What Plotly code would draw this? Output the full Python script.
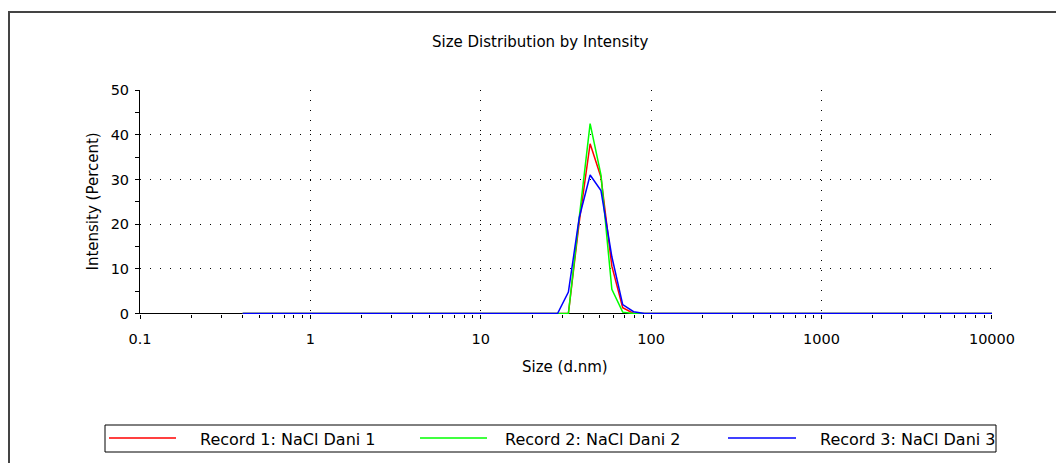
import plotly.graph_objects as go

# ---------------- data ----------------
sizes = [0.4, 0.4632, 0.5365, 0.6213, 0.7195, 0.8332, 0.9649, 1.117, 1.294, 1.499,
         1.736, 2.010, 2.328, 2.696, 3.122, 3.615, 4.187, 4.849, 5.615, 6.503,
         7.531, 8.721, 10.10, 11.70, 13.54, 15.69, 18.17, 21.04, 24.36, 28.21,
         32.67, 37.84, 43.82, 50.75, 58.77, 68.06, 78.82, 91.28, 105.7, 122.4,
         141.8, 164.2, 190.1, 220.2, 255.0, 295.3, 342.0, 396.1, 458.7, 531.2,
         615.1, 712.4, 825.0, 955.4, 1106, 1281, 1484, 1718, 1990, 2305,
         2669, 3091, 3580, 4145, 4801, 5560, 6439, 7456, 8635, 10000]

record1 = [0]*30 + [0, 20.5, 38.0, 30.5, 10.6, 1.3, 0.0] + [0]*33
record2 = [0]*30 + [0, 21.5, 42.5, 31.0, 5.4, 0.3, 0.0] + [0]*33
record3 = [0]*29 + [0, 4.8, 21.5, 31.0, 27.5, 12.7, 2.0, 0.4, 0.0] + [0]*32

series_names = ["Record 1: NaCl Dani 1", "Record 2: NaCl Dani 2", "Record 3: NaCl Dani 3"]
series_colors = ["#ff0000", "#00ff00", "#0000ff"]
series_values = [record1, record2, record3]

x_tickvals = [0.1, 1, 10, 100, 1000, 10000]
x_ticktext = ["0.1", "1", "10", "100", "1000", "10000"]
y_tickvals = [0, 10, 20, 30, 40, 50]

title_text = "Size Distribution by Intensity"
x_title = "Size (d.nm)"
y_title = "Intensity (Percent)"

# ---------------- layout geometry (page pixels; figure sits at 8,8) ----------------
OFF = 8
W, H = 1064 - OFF, 463 - OFF
PL, PR, PT, PB = 140, 992, 90, 314   # plot area in page pixels
pw, ph = PR - PL, PB - PT
Y_RANGE = [-0.112, 50.03]
X_RANGE = [-1, 4.0002]

def px_x(p):
    return (p - PL) / pw

def px_y(p):
    return (PB - p) / ph

FONT = "DejaVu Sans, Verdana, sans-serif"

fig = go.Figure()
for name, color, vals in zip(series_names, series_colors, series_values):
    fig.add_trace(go.Scatter(x=sizes, y=vals, mode="lines", name=name, cliponaxis=False,
                             line=dict(color=color, width=1.5), showlegend=False))

dotgrid = dict(showgrid=True, gridcolor="#000000", gridwidth=1, griddash="1px,9px")

fig.update_layout(
    width=W, height=H,
    margin=dict(l=PL - OFF, r=W - (PR - OFF), t=PT - OFF, b=H - (PB - OFF)),
    paper_bgcolor="white", plot_bgcolor="white",
    font=dict(family=FONT, size=14.5, color="black"),
    xaxis=dict(type="log", range=X_RANGE, tickvals=x_tickvals, ticktext=x_ticktext,
               showline=False, layer="below traces",
               ticks="outside", ticklen=4, tickcolor="black",
               minor=dict(ticks="outside", ticklen=3, tickcolor="black", dtick="D1", showgrid=False),
               zeroline=False, ticklabelstandoff=8, **dotgrid),
    yaxis=dict(range=Y_RANGE, tickvals=y_tickvals,
               showline=True, linecolor="black", linewidth=1, layer="below traces",
               ticks="outside", ticklen=4, tickcolor="black",
               minor=dict(ticks="outside", ticklen=4, tickcolor="black", dtick=5, showgrid=False),
               zeroline=True, zerolinecolor="black", zerolinewidth=1,
               ticklabelstandoff=3, **dotgrid),
    xaxis2=dict(type="log", range=X_RANGE, overlaying="x", anchor="y", side="bottom",
                tickvals=x_tickvals, showticklabels=False, showgrid=False, showline=False,
                ticks="inside", ticklen=3, tickcolor="black", zeroline=False,
                minor=dict(ticks="inside", ticklen=2, tickcolor="black", dtick="D1", showgrid=False)),
    yaxis2=dict(range=Y_RANGE, overlaying="y", anchor="x", side="left",
                tickvals=y_tickvals, showticklabels=False, showgrid=False, showline=False,
                ticks="inside", ticklen=4, tickcolor="black", zeroline=False,
                minor=dict(ticks="inside", ticklen=4, tickcolor="black", dtick=5, showgrid=False)),
)

# title and axis titles
fig.add_annotation(text=title_text, xref="paper", yref="paper", x=px_x(540), y=px_y(42),
                   showarrow=False, xanchor="center", yanchor="middle",
                   font=dict(family=FONT, size=15))
fig.add_annotation(text=x_title, xref="paper", yref="paper", x=px_x(565), y=px_y(367),
                   showarrow=False, xanchor="center", yanchor="middle",
                   font=dict(family=FONT, size=15))
fig.add_annotation(text=y_title, xref="paper", yref="paper", x=px_x(92.5), y=px_y(202),
                   showarrow=False, xanchor="center", yanchor="middle", textangle=-90,
                   font=dict(family=FONT, size=15))

# outer frame (left and top edges, continuing off-image)
fig.add_shape(type="path", xref="paper", yref="paper",
              path=f"M {px_x(9)} {px_y(480)} L {px_x(9)} {px_y(12)} L {px_x(1080)} {px_y(12)}",
              line=dict(color="#444444", width=2))

# legend box
fig.add_shape(type="rect", xref="paper", yref="paper",
              x0=px_x(105), x1=px_x(996), y0=px_y(452), y1=px_y(425),
              line=dict(color="black", width=1), fillcolor="white", layer="below")
leg_line_x = [(109, 176), (420, 487), (728, 796)]
leg_text_x = [198, 503, 818]
for (lx0, lx1), tx, name, color in zip(leg_line_x, leg_text_x, series_names, series_colors):
    fig.add_shape(type="line", xref="paper", yref="paper",
                  x0=px_x(lx0), x1=px_x(lx1), y0=px_y(438), y1=px_y(438),
                  line=dict(color=color, width=1.5))
    fig.add_annotation(text=name, xref="paper", yref="paper", x=px_x(tx), y=px_y(439),
                       showarrow=False, xanchor="left", yanchor="middle",
                       font=dict(family=FONT, size=16))

fig.write_html("out.html")
